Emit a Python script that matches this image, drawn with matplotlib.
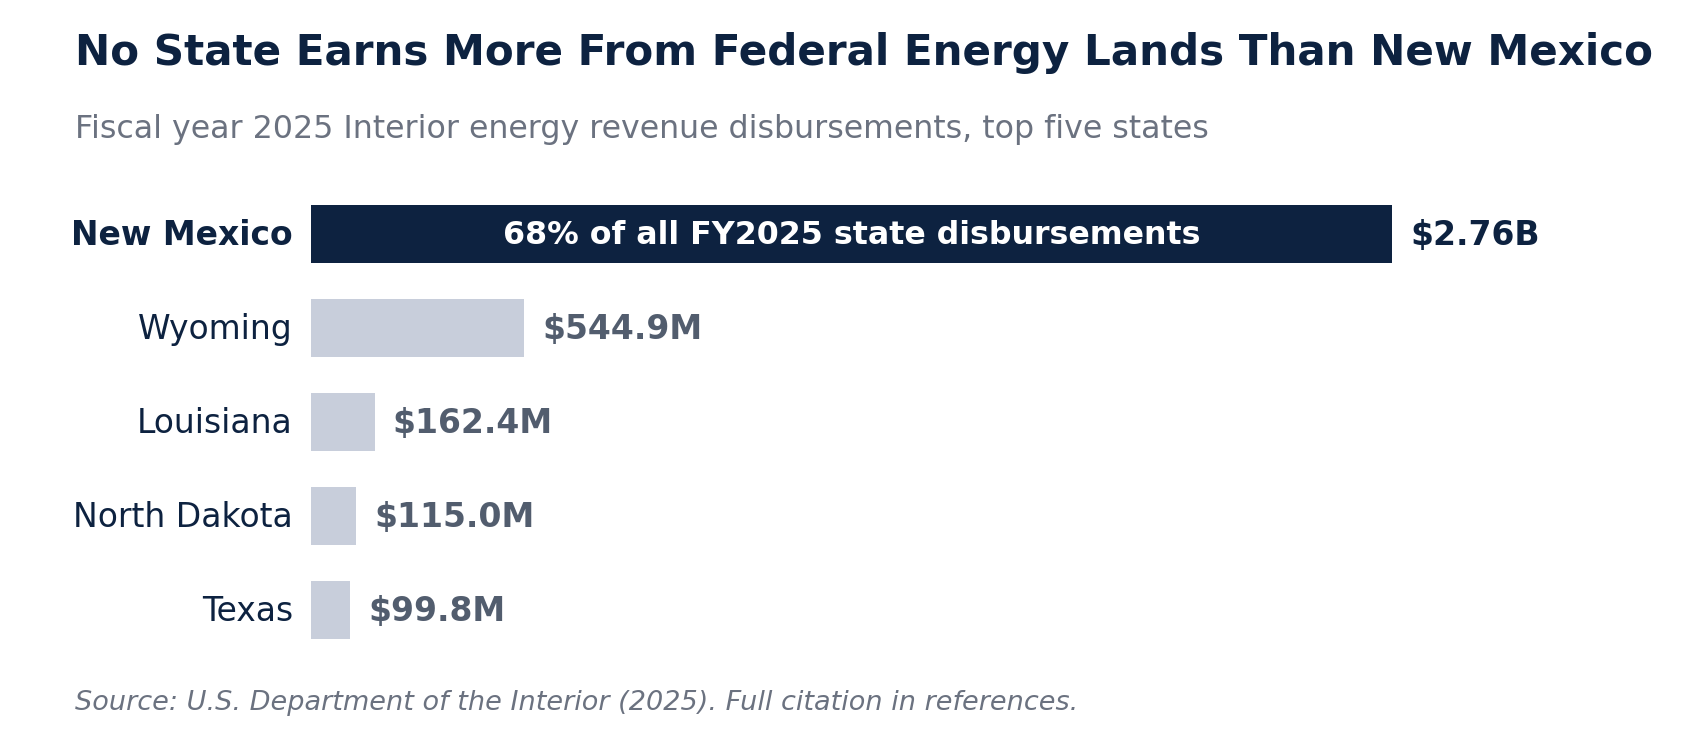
import matplotlib.pyplot as plt

states = ["New Mexico", "Wyoming", "Louisiana", "North Dakota", "Texas"]
values_m = [2760.0, 544.9, 162.4, 115.0, 99.8]
value_labels = ["$2.76B", "$544.9M", "$162.4M", "$115.0M", "$99.8M"]
bar_note = "68% of all FY2025 state disbursements"

NAVY = "#0d2240"
GRAY_BAR = "#c8cedb"
GRAY_TEXT = "#525d6e"
SUB_GRAY = "#6b7280"

W, H = 1687, 741
fig = plt.figure(figsize=(W / 100, H / 100), dpi=100)
fig.patch.set_facecolor("white")

# axes placed in pixel terms
left_px, right_px = 311, 1620
top_px, bottom_px = 187, 657
ax = fig.add_axes([left_px / W, 1 - bottom_px / H,
                   (right_px - left_px) / W, (bottom_px - top_px) / H])
px_per_m = 1081 / 2760
ax.set_xlim(0, (right_px - left_px) / px_per_m)
ax.set_ylim(len(states) - 0.5, -0.5)

colors = [NAVY] + [GRAY_BAR] * (len(states) - 1)
ypos = list(range(len(states)))
ax.barh(ypos, values_m, height=0.62, color=colors)

off = 18 / px_per_m
for i, (v, lab) in enumerate(zip(values_m, value_labels)):
    ax.text(v + off, i + 0.015, lab, va="center", ha="left", fontsize=23.8,
            fontweight="bold", color=NAVY if i == 0 else GRAY_TEXT)
    ax.text(-off, i + 0.015, states[i], va="center", ha="right", fontsize=23.8,
            fontweight="bold" if i == 0 else "normal", color=NAVY)

ax.text(values_m[0] / 2, 0.015, bar_note, va="center", ha="center",
        fontsize=22.8, fontweight="bold", color="white")

ax.axis("off")

fig.text(75 / W, 1 - 65 / H, "No State Earns More From Federal Energy Lands Than New Mexico",
         fontsize=30.3, fontweight="bold", color=NAVY, ha="left", va="baseline")
fig.text(75 / W, 1 - 138 / H, "Fiscal year 2025 Interior energy revenue disbursements, top five states",
         fontsize=22.8, color=SUB_GRAY, ha="left", va="baseline")
fig.text(75 / W, 1 - 710 / H, "Source: U.S. Department of the Interior (2025). Full citation in references.",
         fontsize=19.5, style="italic", color=SUB_GRAY, ha="left", va="baseline")

fig.savefig("out.png", dpi=100, facecolor="white")
